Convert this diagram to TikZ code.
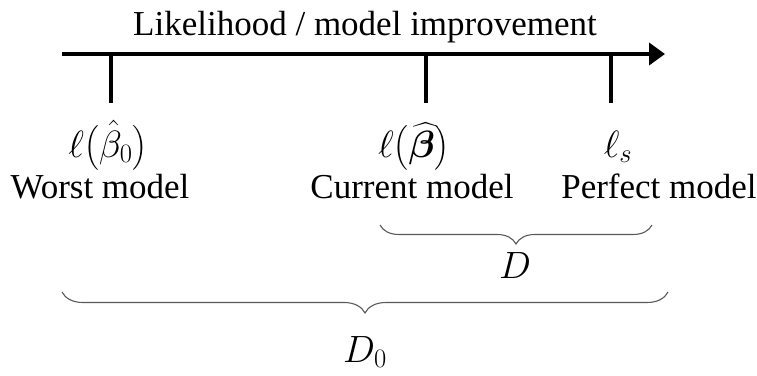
\RequirePackage{fix-cm}
\documentclass[tikz,border=0pt]{standalone}
\usepackage{amsmath}
\usepackage{bm}
\usepackage{fontspec}
\setmainfont{Liberation Serif}
\usetikzlibrary{arrows.meta,positioning,decorations.pathreplacing}

\begin{document}
\begin{tikzpicture}[
    x=1pt,y=-1pt,
    txt/.style={inner sep=0pt,anchor=base,font=\fontsize{35}{40}\selectfont},
    mth/.style={inner sep=0pt,anchor=base,font=\fontsize{38}{42}\selectfont},
    axis/.style={line width=4.5pt,-{Triangle[length=16pt,width=22pt]}},
    tickln/.style={line width=4.5pt},
    brc/.style={decorate,decoration={brace,mirror,amplitude=19pt},draw=black!65,line width=1.1pt}
  ]
    \useasboundingbox (0,0) rectangle (757,375);

    % axis and ticks
    \coordinate (axs) at (62,54);
    \coordinate (axe) at (665,54);
    \coordinate (t0) at (111,54);  \coordinate (t0b) at (111,103);
    \coordinate (t1) at (426,54);  \coordinate (t1b) at (426,103);
    \coordinate (ts) at (611,54);  \coordinate (tsb) at (611,103);
    \draw[axis] (axs) -- (axe);
    \draw[tickln] (t0) -- (t0b);
    \draw[tickln] (t1) -- (t1b);
    \draw[tickln] (ts) -- (tsb);

    \node[txt] (title) at (365,35) {Likelihood / model improvement};

    % labels under the ticks
    \node[mth] (l0) at (108,157) {$\ell\bigl(\hat{\beta}_0\bigr)$};
    \node[txt] (worst) at (100,198) {Worst model};
    \node[mth] (l1) at (414,157) {$\ell\bigl(\widehat{\bm{\beta}}\bigr)$};
    \node[txt] (current) at (412,198) {Current model};
    \node[mth] (ls) at (618,157) {$\ell_s$};
    \node[txt] (perfect) at (659,198) {Perfect model};

    % braces
    \coordinate (bDa) at (380,225);
    \coordinate (bDb) at (652,225);
    \draw[brc] (bDa) -- (bDb);
    \node[mth] (dev) at (515,278) {$D$};

    \coordinate (bNa) at (62,292);
    \coordinate (bNb) at (668,292);
    \draw[brc,decoration={amplitude=21pt}] (bNa) -- (bNb);
    \node[mth] (nulldev) at (365,362) {$D_0$};
  \end{tikzpicture}
\end{document}
